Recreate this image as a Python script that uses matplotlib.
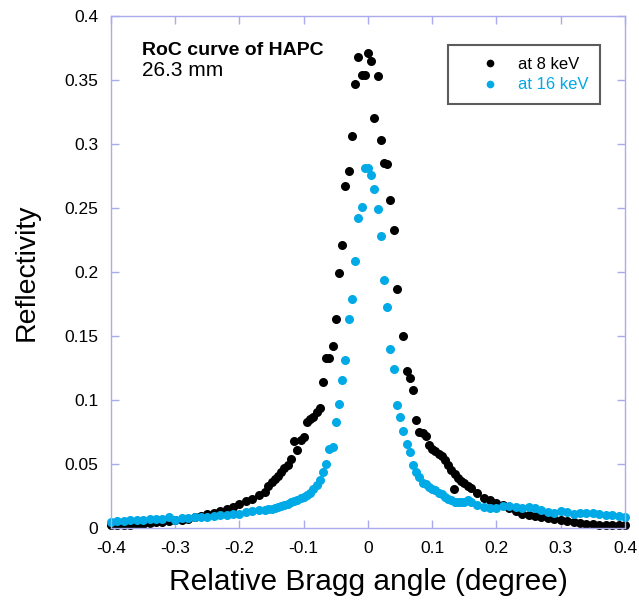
import matplotlib
matplotlib.use("Agg")
import matplotlib.pyplot as plt
from matplotlib.ticker import FormatStrFormatter, MultipleLocator

plt.rcParams['font.family'] = ['Liberation Sans', 'DejaVu Sans']
plt.rcParams['axes.unicode_minus'] = False

# ---- data ----
# 8 keV (black)
x_8kev = [-0.40, -0.39, -0.38, -0.37, -0.36, -0.35, -0.34, -0.33, -0.32, -0.31,
          -0.30, -0.29, -0.28, -0.27, -0.26, -0.25, -0.24, -0.23, -0.22, -0.21,
          -0.20, -0.19, -0.18, -0.17, -0.16,
          -0.155, -0.150, -0.145, -0.140, -0.135, -0.130, -0.125, -0.120, -0.115, -0.110,
          -0.105, -0.100, -0.095, -0.090, -0.085, -0.080, -0.075, -0.070, -0.065, -0.060,
          -0.055, -0.050, -0.045, -0.040, -0.035, -0.030, -0.025, -0.020, -0.015, -0.010,
          -0.005, 0.000, 0.005, 0.010, 0.015, 0.020, 0.025, 0.030, 0.035, 0.040,
          0.045, 0.055, 0.060, 0.065, 0.070, 0.075, 0.080, 0.085, 0.090,
          0.095, 0.100, 0.105, 0.110, 0.115, 0.120, 0.125, 0.130, 0.1335, 0.135,
          0.140, 0.145, 0.150, 0.155,
          0.16, 0.17, 0.18, 0.19, 0.20, 0.21, 0.22, 0.23, 0.24, 0.25,
          0.26, 0.27, 0.28, 0.29, 0.30, 0.31, 0.32, 0.33, 0.34, 0.35,
          0.36, 0.37, 0.38, 0.39, 0.40]
y_8kev = [0.0023, 0.0023, 0.0024, 0.0027, 0.0029, 0.0031, 0.0038, 0.0044, 0.0050, 0.0054,
          0.0059, 0.0066, 0.0074, 0.0085, 0.0097, 0.0108, 0.0121, 0.0135, 0.0150, 0.0166,
          0.0185, 0.0210, 0.0230, 0.0255, 0.0285,
          0.0330, 0.0360, 0.0385, 0.0405, 0.0435, 0.0465, 0.0490, 0.0540, 0.0680, 0.0610,
          0.0690, 0.0710, 0.0830, 0.0850, 0.0870, 0.0910, 0.0940, 0.1140, 0.1325, 0.1330,
          0.1420, 0.1630, 0.1990, 0.2210, 0.2670, 0.2790, 0.3060, 0.3470, 0.3680, 0.3540,
          0.3540, 0.3710, 0.3650, 0.3200, 0.3530, 0.3030, 0.2850, 0.2840, 0.2560, 0.2330,
          0.1870, 0.1500, 0.1230, 0.1170, 0.1080, 0.0840, 0.0750, 0.0740, 0.0720,
          0.0650, 0.0615, 0.0600, 0.0580, 0.0560, 0.0530, 0.0490, 0.0455, 0.0305, 0.0420,
          0.0390, 0.0370, 0.0350, 0.0330,
          0.0310, 0.0270, 0.0236, 0.0215, 0.0198, 0.0180, 0.0157, 0.0132, 0.0112, 0.0104,
          0.0096, 0.0087, 0.0078, 0.0071, 0.0060, 0.0052, 0.0045, 0.0039, 0.0033, 0.0028,
          0.0026, 0.0026, 0.0025, 0.0023, 0.0023]

# 16 keV (blue)
x_16kev = [-0.40, -0.39, -0.38, -0.37, -0.36, -0.35, -0.34, -0.33, -0.32, -0.31,
           -0.30, -0.29, -0.28, -0.27, -0.26, -0.25, -0.24, -0.23, -0.22, -0.21,
           -0.20, -0.19, -0.18, -0.17, -0.16,
           -0.155, -0.150, -0.145, -0.140, -0.135, -0.130, -0.125, -0.120, -0.115, -0.110,
           -0.105, -0.100, -0.095, -0.090, -0.085, -0.080, -0.075, -0.070, -0.065, -0.060,
           -0.055, -0.050, -0.045, -0.040, -0.035, -0.030, -0.025, -0.020, -0.015, -0.010,
           -0.005, 0.000, 0.005, 0.010, 0.015, 0.020, 0.025, 0.030, 0.035, 0.040,
           0.045, 0.050, 0.055, 0.060, 0.065, 0.070, 0.075, 0.080, 0.085, 0.090,
           0.095, 0.100, 0.105, 0.110, 0.115, 0.120, 0.125, 0.130, 0.135, 0.140,
           0.145, 0.150, 0.155,
           0.16, 0.17, 0.18, 0.19, 0.20, 0.21, 0.22, 0.23, 0.24, 0.25,
           0.26, 0.27, 0.28, 0.29, 0.30, 0.31, 0.32, 0.33, 0.34, 0.35,
           0.36, 0.37, 0.38, 0.39, 0.40]
y_16kev = [0.0049, 0.0054, 0.0058, 0.0063, 0.0061, 0.0064, 0.0068, 0.0070, 0.0074, 0.0088,
           0.0065, 0.0075, 0.0082, 0.0083, 0.0085, 0.0084, 0.0094, 0.0100, 0.0102, 0.0106,
           0.0108, 0.0126, 0.0130, 0.0137, 0.0143,
           0.0146, 0.0150, 0.0158, 0.0165, 0.0172, 0.0180, 0.0190, 0.0200, 0.0208, 0.0222,
           0.0232, 0.0245, 0.0258, 0.0270, 0.0305, 0.0336, 0.0375, 0.0440, 0.0500, 0.0620,
           0.0635, 0.0830, 0.0970, 0.1160, 0.1310, 0.1630, 0.1790, 0.2086, 0.2420, 0.2510,
           0.2815, 0.2815, 0.2760, 0.2650, 0.2490, 0.2280, 0.1940, 0.1730, 0.1400, 0.1240,
           0.0960, 0.0865, 0.0760, 0.0656, 0.0596, 0.0490, 0.0440, 0.0400, 0.0354, 0.0340,
           0.0320, 0.0305, 0.0294, 0.0275, 0.0262, 0.0245, 0.0228, 0.0215, 0.0206, 0.0200,
           0.0202, 0.0206, 0.0215,
           0.0205, 0.0180, 0.0168, 0.0160, 0.0158, 0.0170, 0.0169, 0.0165, 0.0160, 0.0161,
           0.0155, 0.0138, 0.0122, 0.0115, 0.0136, 0.0125, 0.0113, 0.0115, 0.0118, 0.0115,
           0.0110, 0.0102, 0.0098, 0.0092, 0.0083]

label_8kev = "at 8 keV"
label_16kev = "at 16 keV"
color_8kev = "#000000"
color_16kev = "#00aae6"
frame_color = "#aaaaee"

fig = plt.figure(figsize=(6.39, 6.04), dpi=100)
ax = fig.add_axes([0.1737, 0.1258, 0.8043, 0.8477])

ax.plot(x_8kev, y_8kev, 'o', color=color_8kev, markersize=6.5, markeredgewidth=0,
        label=label_8kev, clip_on=False)
ax.plot(x_16kev, y_16kev, 'o', color=color_16kev, markersize=6.5, markeredgewidth=0,
        label=label_16kev, clip_on=False)

ax.set_xlim(-0.4, 0.4)
ax.set_ylim(0, 0.4)
ax.xaxis.set_major_locator(MultipleLocator(0.1))
ax.yaxis.set_major_locator(MultipleLocator(0.05))
ax.xaxis.set_major_formatter(FormatStrFormatter('%g'))
ax.yaxis.set_major_formatter(FormatStrFormatter('%g'))

for s in ax.spines.values():
    s.set_color(frame_color)
    s.set_linewidth(1.0)
ax.tick_params(direction='in', length=6, width=1, color=frame_color,
               top=True, right=True, pad=9)
ax.tick_params(axis='x', labelsize=12.5)
ax.tick_params(axis='y', labelsize=12.5)

ax.set_xlabel('Relative Bragg angle (degree)', fontsize=21.5, labelpad=9)
ax.set_ylabel('Reflectivity', fontsize=20.5, labelpad=18)

ax.text(0.06, 0.924, 'RoC curve of HAPC', transform=ax.transAxes,
        fontsize=14, fontweight='bold')
ax.text(0.06, 0.883, '26.3 mm', transform=ax.transAxes, fontsize=15)

leg = ax.legend(loc='upper left', bbox_to_anchor=(0.6556, 0.9434),
                fontsize=12, frameon=True, fancybox=False, edgecolor='#333333',
                borderpad=0.7, handlelength=3.6, handletextpad=-0.1,
                labelspacing=0.35, markerscale=0.85, borderaxespad=0)
leg.get_frame().set_linewidth(1.5)
for t, c in zip(leg.get_texts(), [color_8kev, color_16kev]):
    t.set_color(c)

fig.savefig('out.png', dpi=100)
